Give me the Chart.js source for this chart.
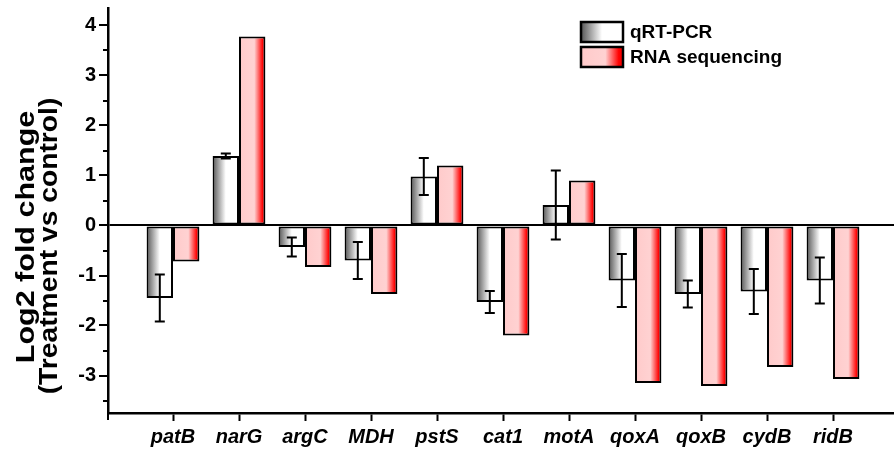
<!DOCTYPE html>
<html>
<head>
<meta charset="utf-8">
<title>Log2 fold change</title>
<script src="https://cdn.jsdelivr.net/npm/chart.js@4.4.1/dist/chart.umd.min.js"></script>
<style>
  html, body { margin: 0; padding: 0; background: #fff; }
  #wrap { width: 894px; height: 457px; }
</style>
</head>
<body>
<div id="wrap"><canvas id="foldChart" width="894" height="457"></canvas></div>
<script>
// Data
const genes = ['patB', 'narG', 'argC', 'MDH', 'pstS', 'cat1', 'motA', 'qoxA', 'qoxB', 'cydB', 'ridB'];
const qpcrValues = [-1.45, 1.39, -0.43, -0.70, 0.98, -1.53, 0.41, -1.10, -1.37, -1.32, -1.10];
const qpcrErrors = [0.47, 0.05, 0.19, 0.37, 0.37, 0.22, 0.69, 0.53, 0.27, 0.45, 0.46];
const rnaSeqValues = [-0.72, 3.78, -0.83, -1.37, 1.20, -2.20, 0.90, -3.15, -3.21, -2.83, -3.07];
const yTicks = [-3, -2, -1, 0, 1, 2, 3, 4];
const yMinorTicks = [-3.5, -2.5, -1.5, -0.5, 0.5, 1.5, 2.5, 3.5];
const seriesNames = ['qRT-PCR', 'RNA sequencing'];

const FONT = "'Liberation Sans', Arial, Helvetica, sans-serif";
const CAT_PCT = 0.8;

// gradient stops for the two series
const grayStops = [[0, '#555555'], [0.5, '#ffffff'], [1, '#ffffff']];
const redStops = [[0, '#ffcaca'], [0.58, '#ffd2d2'], [0.9, '#ff0000'], [1, '#f00000']];

function makeGradient(c, left, right, stops) {
    const g = c.createLinearGradient(left, 0, right, 0);
    stops.forEach(s => g.addColorStop(s[0], s[1]));
    return g;
}

// builds a gradient spanning exactly the bar that belongs to this data point
function barFill(stops, side) {
    return function(context) {
        const chart = context.chart;
        if (!chart.chartArea || context.type !== 'data') return stops[0][1];
        const x = chart.scales.x;
        const center = x.getPixelForValue(context.dataIndex + 1);
        const half = (x.getPixelForValue(2) - x.getPixelForValue(1)) * CAT_PCT / 2;
        return side < 0
            ? makeGradient(chart.ctx, center - half, center, stops)
            : makeGradient(chart.ctx, center, center + half, stops);
    };
}

// error bars on the qRT-PCR series
const errorBars = {
    id: 'errorBars',
    afterDatasetsDraw(chart) {
        const c = chart.ctx;
        const y = chart.scales.y;
        const meta = chart.getDatasetMeta(0);
        c.save();
        c.strokeStyle = '#000';
        c.lineWidth = 2;
        meta.data.forEach((bar, i) => {
            const v = qpcrValues[i], e = qpcrErrors[i];
            const top = y.getPixelForValue(v + e);
            const bot = y.getPixelForValue(v - e);
            c.beginPath();
            c.moveTo(bar.x, top); c.lineTo(bar.x, bot);
            c.moveTo(bar.x - 5, top); c.lineTo(bar.x + 5, top);
            c.moveTo(bar.x - 5, bot); c.lineTo(bar.x + 5, bot);
            c.stroke();
        });
        c.restore();
    }
};

function drawStretched(c, text, x, y, stretch) {
    c.save();
    c.translate(x, y);
    c.rotate(-Math.PI / 2);
    c.scale(stretch, 1);
    c.fillText(text, 0, 0);
    c.restore();
}

// minor ticks, y axis title and legend drawn by hand
const decorations = {
    id: 'decorations',
    afterDraw(chart) {
        const c = chart.ctx;
        const area = chart.chartArea;
        const y = chart.scales.y;
        c.save();
        c.strokeStyle = '#000';
        c.lineWidth = 2;
        c.beginPath();
        yMinorTicks.forEach(v => {
            const py = Math.round(y.getPixelForValue(v));
            c.moveTo(area.left - 5, py); c.lineTo(area.left, py);
        });
        c.moveTo(area.left, area.bottom); c.lineTo(area.left, area.bottom + 7);
        c.stroke();

        // y title, two lines
        c.fillStyle = '#000';
        c.font = 'bold 25px ' + FONT;
        c.textAlign = 'center';
        c.textBaseline = 'middle';
        drawStretched(c, 'Log2 fold change', 27, 237, 1.22);
        drawStretched(c, '(Treatment vs control)', 50, 246, 1.13);

        // legend
        const lx = 581, ly = [22, 47], bw = 42, bh = 20;
        [grayStops, redStops].forEach((stops, i) => {
            c.fillStyle = makeGradient(c, lx, lx + bw, stops);
            c.fillRect(lx, ly[i], bw, bh);
            c.lineWidth = 2.5;
            c.strokeStyle = '#000';
            c.strokeRect(lx, ly[i], bw, bh);
            c.fillStyle = '#000';
            c.font = 'bold 19px ' + FONT;
            c.textAlign = 'left';
            c.textBaseline = 'middle';
            c.fillText(seriesNames[i], 630, ly[i] + bh / 2 + 1);
        });
        c.restore();
    }
};

Chart.defaults.color = '#000';
Chart.defaults.font.family = FONT;

const canvas = document.getElementById('foldChart');
new Chart(canvas.getContext('2d'), {
    type: 'bar',
    data: {
        datasets: [
            {
                label: seriesNames[0],
                data: genes.map((g, i) => ({ x: i + 1, y: qpcrValues[i] })),
                backgroundColor: barFill(grayStops, -1),
                borderColor: '#000',
                borderWidth: 2,
                borderSkipped: false
            },
            {
                label: seriesNames[1],
                data: genes.map((g, i) => ({ x: i + 1, y: rnaSeqValues[i] })),
                backgroundColor: barFill(redStops, 1),
                borderColor: '#000',
                borderWidth: 2,
                borderSkipped: false
            }
        ]
    },
    options: {
        responsive: false,
        animation: false,
        events: [],
        categoryPercentage: CAT_PCT,
        barPercentage: 1.0,
        layout: { padding: { top: 8, right: 0, bottom: 0, left: 0 } },
        plugins: {
            legend: { display: false },
            tooltip: { enabled: false }
        },
        scales: {
            x: {
                type: 'linear',
                offset: false,
                min: 1 - 65 / 66,
                max: 11 + 61 / 66,
                afterBuildTicks: scale => { scale.ticks = genes.map((g, i) => ({ value: i + 1 })); },
                afterFit: scale => {
                    scale.height = 44;
                    scale.paddingLeft = 0;
                    scale.paddingRight = 0;
                },
                ticks: {
                    callback: v => genes[v - 1] || '',
                    font: { size: 20, weight: 'bold', style: 'italic' },
                    padding: 4,
                    maxRotation: 0,
                    autoSkip: false
                },
                grid: { offset: false, drawOnChartArea: false, tickLength: 8, tickColor: '#000', tickWidth: 2 },
                border: { color: '#000', width: 2.5 }
            },
            y: {
                min: -3.75,
                max: 4.35,
                afterBuildTicks: scale => { scale.ticks = yTicks.map(v => ({ value: v })); },
                afterFit: scale => {
                    scale.width = 108;
                    scale.paddingTop = 0;
                    scale.paddingBottom = 0;
                },
                ticks: {
                    callback: v => String(v),
                    font: { size: 20, weight: 'bold' },
                    padding: 3
                },
                grid: {
                    color: ctx => (ctx.tick && ctx.tick.value === 0 ? '#000' : 'rgba(0,0,0,0)'),
                    lineWidth: 2,
                    tickLength: 9,
                    tickColor: '#000',
                    tickWidth: 2
                },
                border: { color: '#000', width: 2.5 }
            }
        }
    },
    plugins: [errorBars, decorations]
});
</script>
</body>
</html>
